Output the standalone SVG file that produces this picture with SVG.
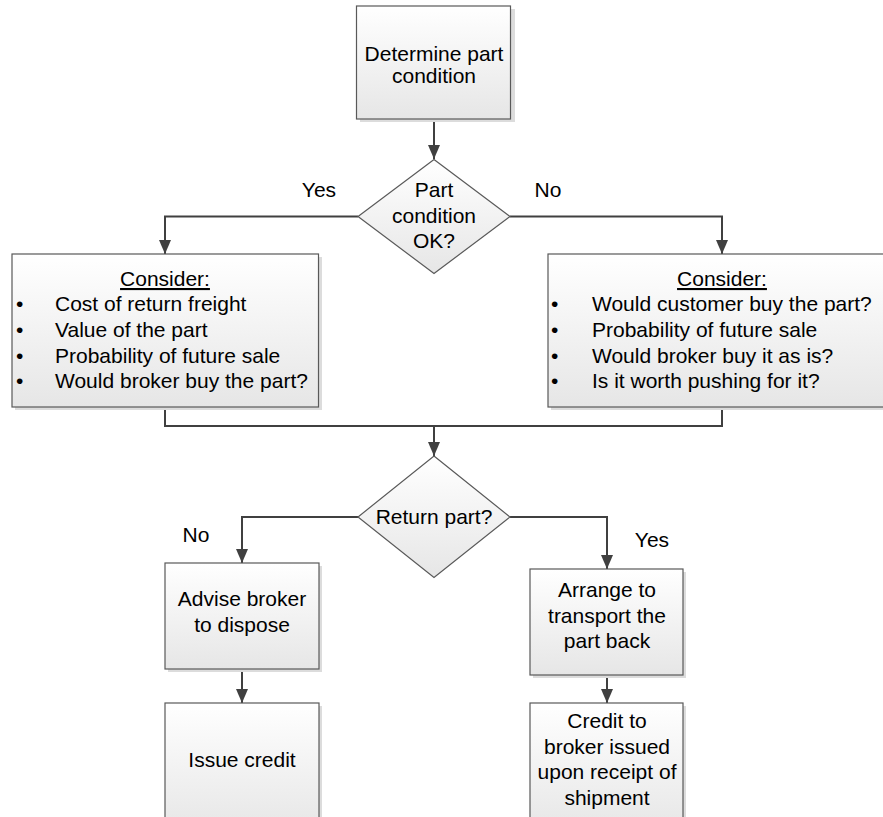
<svg xmlns="http://www.w3.org/2000/svg" width="883" height="817" viewBox="0 0 883 817">
<style>
text{font-family:"Liberation Sans",Arial,sans-serif;font-size:21px;fill:#000}
.c{text-anchor:middle}
.box{fill:url(#g);stroke:#595959;stroke-width:1.2}
.sh{fill:#dcdcdc}
.con{fill:none;stroke:#404040;stroke-width:2}
.arr{marker-end:url(#ah)}
</style>
<defs>
<linearGradient id="g" x1="0" y1="0" x2="0" y2="1">
<stop offset="0" stop-color="#ffffff"/>
<stop offset="1" stop-color="#e6e6e6"/>
</linearGradient>
<marker id="ah" markerUnits="userSpaceOnUse" markerWidth="15" markerHeight="13" refX="14" refY="6" orient="auto">
<path d="M0,0 L14,6 L0,12 Z" fill="#404040"/>
</marker>
</defs>
<rect width="883" height="817" fill="#fff"/>
<g id="connectors">
<path class="con arr" d="M434,119 V159"/>
<path class="con arr" d="M358,216.5 H165 V254"/>
<path class="con arr" d="M510,216.5 H722 V254"/>
<path class="con" d="M165,407 V426 H722 V407"/>
<path class="con arr" d="M434,426 V456"/>
<path class="con arr" d="M358,517 H242 V563"/>
<path class="con arr" d="M510,517 H607 V569"/>
<path class="con arr" d="M242,669 V703"/>
<path class="con arr" d="M607,675 V703"/>
</g>
<g id="n-determine">
<rect class="sh" x="360" y="9" width="155" height="113"/>
<rect class="box" x="356.5" y="6" width="154" height="113"/>
<text class="c" x="434" y="61">Determine part</text>
<text class="c" x="434" y="83">condition</text>
</g>
<g id="n-cond">
<path class="box" d="M434,159.5 L510,216.5 L434,273.5 L358,216.5 Z"/>
<text class="c" x="434" y="197">Part</text>
<text class="c" x="434" y="223">condition</text>
<text class="c" x="434" y="248">OK?</text>
</g>
<text id="l-yes1" class="c" x="319" y="197">Yes</text>
<text id="l-no1" class="c" x="548" y="197">No</text>
<g id="n-consider-left">
<rect class="sh" x="15" y="257" width="307" height="153"/>
<rect class="box" x="12" y="254" width="306.5" height="153"/>
<text class="c" x="165" y="286" text-decoration="underline">Consider:</text>
<text x="16" y="311">•</text><text x="55" y="311">Cost of return freight</text>
<text x="16" y="337">•</text><text x="55" y="337">Value of the part</text>
<text x="16" y="363">•</text><text x="55" y="363">Probability of future sale</text>
<text x="16" y="388">•</text><text x="55" y="388">Would broker buy the part?</text>
</g>
<g id="n-consider-right">
<rect class="sh" x="551" y="257" width="348" height="153"/>
<rect class="box" x="548" y="254" width="348" height="153"/>
<text class="c" x="722" y="286" text-decoration="underline">Consider:</text>
<text x="551" y="311">•</text><text x="592" y="311">Would customer buy the part?</text>
<text x="551" y="337">•</text><text x="592" y="337">Probability of future sale</text>
<text x="551" y="363">•</text><text x="592" y="363">Would broker buy it as is?</text>
<text x="551" y="388">•</text><text x="592" y="388">Is it worth pushing for it?</text>
</g>
<g id="n-return">
<path class="box" d="M434,456 L510,517 L434,577.5 L358,517 Z"/>
<text class="c" x="434" y="524">Return part?</text>
</g>
<text id="l-no2" class="c" x="196" y="542">No</text>
<text id="l-yes2" class="c" x="652" y="547">Yes</text>
<g id="n-advise">
<rect class="sh" x="168" y="566" width="154" height="106"/>
<rect class="box" x="165" y="563" width="154" height="106"/>
<text class="c" x="242" y="606">Advise broker</text>
<text class="c" x="242" y="632">to dispose</text>
</g>
<g id="n-issue">
<rect class="sh" x="168" y="706" width="154" height="130"/>
<rect class="box" x="165" y="703" width="154" height="130"/>
<text class="c" x="242" y="767">Issue credit</text>
</g>
<g id="n-arrange">
<rect class="sh" x="533" y="572" width="153" height="106"/>
<rect class="box" x="530" y="569" width="153" height="106"/>
<text class="c" x="607" y="597">Arrange to</text>
<text class="c" x="607" y="623">transport the</text>
<text class="c" x="607" y="648">part back</text>
</g>
<g id="n-credit">
<rect class="sh" x="533" y="706" width="153" height="130"/>
<rect class="box" x="530" y="703" width="153" height="130"/>
<text class="c" x="607" y="728">Credit to</text>
<text class="c" x="607" y="754">broker issued</text>
<text class="c" x="607" y="779">upon receipt of</text>
<text class="c" x="607" y="805">shipment</text>
</g>
</svg>
